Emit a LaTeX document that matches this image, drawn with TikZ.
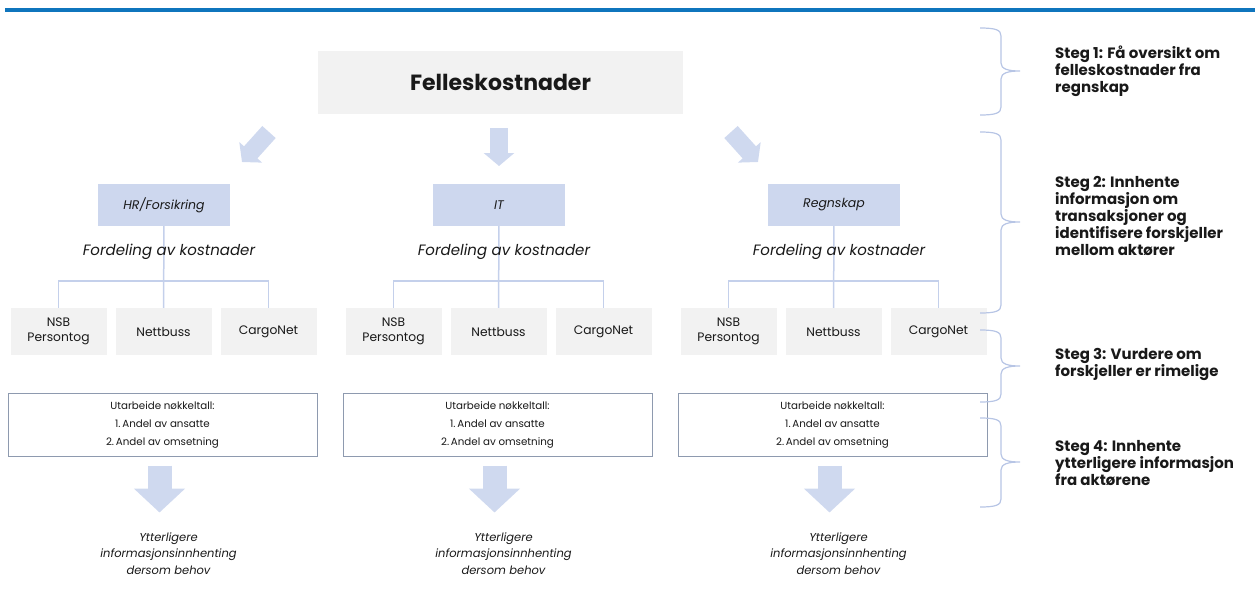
\documentclass[tikz,border=0pt]{standalone}
\usepackage{fontspec}
\setmainfont{Poppins}
\usetikzlibrary{positioning}
\usetikzlibrary{arrows.meta}

\definecolor{boxgray}{HTML}{F2F2F2}
\definecolor{unitblue}{HTML}{CDD7EE}
\definecolor{lineblue}{HTML}{C4D0EB}
\definecolor{arrowblue}{HTML}{CFD9EF}
\definecolor{keyframe}{HTML}{8E9AAF}
\definecolor{bracecol}{HTML}{B7C5E5}
\definecolor{topblue}{HTML}{0F75BD}

\begin{document}
\begin{tikzpicture}[x=1pt,y=-1pt,node distance=335pt,on grid,
        every node/.style={inner sep=0pt,text=black!90},
        topbox/.style={fill=boxgray,minimum width=365pt,minimum height=63pt,font=\bfseries\fontsize{22}{24}\selectfont},
        unitbox/.style={fill=unitblue,minimum width=132pt,minimum height=42pt,font=\itshape\fontsize{12.5}{14}\selectfont},
        fordlabel/.style={font=\itshape\fontsize{15}{17}\selectfont},
        actor/.style={fill=boxgray,minimum width=96pt,minimum height=47pt,align=center,font=\fontsize{12.3}{15}\selectfont},
        keybox/.style={draw=keyframe,line width=1pt,fill=white,minimum width=309pt,minimum height=63pt,align=center,font=\fontsize{10.3}{18}\selectfont},
        yttlabel/.style={align=center,font=\itshape\fontsize{11.5}{16.5}\selectfont},
        steg/.style={anchor=west,align=left,font=\bfseries\fontsize{15}{16.8}\selectfont},
        branch/.style={draw=lineblue,line width=1.5pt},
        brace/.style={draw=bracecol,line width=1.2pt},
        smallarrow/.style={draw=arrowblue,line width=18pt,-{Triangle[length=13pt,width=30pt]}},
        bigarrow/.style={draw=arrowblue,line width=24pt,-{Triangle[length=24pt,width=50pt]}}]
        \useasboundingbox (0,0) rectangle (1255,606);
        \draw[topblue,line width=4pt] (5,10) -- (1255,10);

        % step 1
        \node[topbox] (fk) at (500.5,82.5) {Felleskostnader};
        \coordinate (ahr1) at (269,132);
        \coordinate (ahr2) at (242,162);
        \coordinate (ait1) at (499,128);
        \coordinate (ait2) at (499,166);
        \coordinate (arg1) at (731,132);
        \coordinate (arg2) at (758,162);
        \draw[smallarrow] (ahr1) -- (ahr2);
        \draw[smallarrow] (ait1) -- (ait2);
        \draw[smallarrow] (arg1) -- (arg2);

        % step 2
        \node[unitbox] (hr) at (164,205) {HR/Forsikring};
        \node[unitbox] (it) [right=of hr] {IT};
        \node[unitbox] (rg) [right=of it] {Regnskap};

        \node[actor] (nsbhr) at (58.5,331.5) {NSB\\Persontog};
        \node[actor] (netthr) [right=105pt of nsbhr] {Nettbuss};
        \node[actor] (cargohr) [right=105pt of netthr] {CargoNet};
        \node[actor] (nsbit) [right=of nsbhr] {NSB\\Persontog};
        \node[actor] (nettit) [right=105pt of nsbit] {Nettbuss};
        \node[actor] (cargoit) [right=105pt of nettit] {CargoNet};
        \node[actor] (nsbrg) [right=of nsbit] {NSB\\Persontog};
        \node[actor] (nettrg) [right=105pt of nsbrg] {Nettbuss};
        \node[actor] (cargorg) [right=105pt of nettrg] {CargoNet};

        \draw[branch] (hr) -- (netthr);
        \draw[branch] (nsbhr.north) -- ++(0,-27) -| (cargohr.north);
        \draw[branch] (it) -- (nettit);
        \draw[branch] (nsbit.north) -- ++(0,-27) -| (cargoit.north);
        \draw[branch] (rg) -- (nettrg);
        \draw[branch] (nsbrg.north) -- ++(0,-27) -| (cargorg.north);

        \node[fordlabel] (fordhr) [below=47pt of hr,xshift=5pt] {Fordeling av kostnader};
        \node[fordlabel] (fordit) [below=47pt of it,xshift=5pt] {Fordeling av kostnader};
        \node[fordlabel] (fordrg) [below=47pt of rg,xshift=5pt] {Fordeling av kostnader};

        % step 3
        \node[keybox] (keyhr) at (162.5,424.5) {Utarbeide nøkkeltall:\\1.\,Andel av ansatte\\2.\,Andel av omsetning};
        \node[keybox] (keyit) [right=of keyhr] {Utarbeide nøkkeltall:\\1.\,Andel av ansatte\\2.\,Andel av omsetning};
        \node[keybox] (keyrg) [right=of keyit] {Utarbeide nøkkeltall:\\1.\,Andel av ansatte\\2.\,Andel av omsetning};

        % step 4
        \node[yttlabel] (ytthr) [below=129pt of keyhr,xshift=6pt] {Ytterligere\\informasjonsinnhenting\\dersom behov};
        \node[yttlabel] (yttit) [right=of ytthr] {Ytterligere\\informasjonsinnhenting\\dersom behov};
        \node[yttlabel] (yttrg) [right=of yttit] {Ytterligere\\informasjonsinnhenting\\dersom behov};
        \draw[bigarrow] ([yshift=-9pt,xshift=-3pt]keyhr.south) -- ++(0,47);
        \draw[bigarrow] ([yshift=-9pt,xshift=-3pt]keyit.south) -- ++(0,47);
        \draw[bigarrow] ([yshift=-9pt,xshift=-3pt]keyrg.south) -- ++(0,47);

        % braces and steps
        \draw[brace] (980,28) .. controls (996,28) and (1001,30) .. (1001,36) -- (1001,63) .. controls (1001,69) and (1008,71) .. (1020,71) .. controls (1008,71) and (1001,73) .. (1001,79) -- (1001,107) .. controls (1001,113) and (996,115) .. (980,115);
        \draw[brace] (980,132) .. controls (996,132) and (1001,134) .. (1001,140) -- (1001,214) .. controls (1001,220) and (1008,222) .. (1020,222) .. controls (1008,222) and (1001,224) .. (1001,230) -- (1001,305) .. controls (1001,311) and (996,313) .. (980,313);
        \draw[brace] (980,330) .. controls (996,330) and (1001,332) .. (1001,338) -- (1001,358) .. controls (1001,364) and (1008,366) .. (1020,366) .. controls (1008,366) and (1001,368) .. (1001,374) -- (1001,394) .. controls (1001,400) and (996,402) .. (980,402);
        \draw[brace] (980,418) .. controls (996,418) and (1001,420) .. (1001,426) -- (1001,454) .. controls (1001,460) and (1008,462) .. (1020,462) .. controls (1008,462) and (1001,464) .. (1001,470) -- (1001,499) .. controls (1001,505) and (996,507) .. (980,507);
        \node[steg] (steg1) at (1055,71.5) {Steg 1: Få oversikt om\\felleskostnader fra\\regnskap};
        \node[steg] (steg2) at (1055,216) {Steg 2: Innhente\\informasjon om\\transaksjoner og\\identifisere forskjeller\\mellom aktører};
        \node[steg] (steg3) at (1055,364.5) {Steg 3: Vurdere om\\forskjeller er rimelige};
        \node[steg] (steg4) at (1055,463) {Steg 4: Innhente\\ytterligere informasjon\\fra aktørene};
\end{tikzpicture}
\end{document}
